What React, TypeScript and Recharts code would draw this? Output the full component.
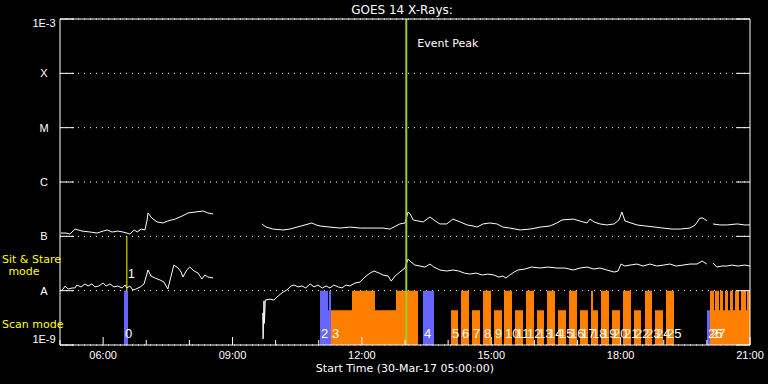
import {
  ComposedChart,
  Line,
  Area,
  Scatter,
  XAxis,
  YAxis,
  CartesianGrid,
  ReferenceLine,
} from "recharts";

const chartTitle = "GOES 14 X-Rays:";
const timeAxisTitle = "Start Time (30-Mar-17 05:00:00)";
const hourTicks = [5, 6, 7, 8, 9, 10, 11, 12, 13, 14, 15, 16, 17, 18, 19, 20, 21];
const fluxTicks = [1e-9, 1e-8, 1e-7, 1e-6, 1e-5, 1e-4, 1e-3];
const fluxLabels = ["1E-9", "A", "B", "C", "M", "X", "1E-3"];
const eventPeakHour = 13.03;
const stareHour = 6.55;

// GOES long channel (1-8 A), [hour, W/m2], null = data gap
const longChannel: [number, number | null][] = [
  [5.02, 1.15e-7], [5.14, 1.15e-7], [5.23, 1.1e-7], [5.35, 1.36e-7], [5.51, 1.25e-7],
  [5.7, 1.2e-7], [5.86, 1.15e-7], [6.0, 1.25e-7], [6.09, 1.31e-7], [6.21, 1.2e-7],
  [6.34, 1.25e-7], [6.46, 1.2e-7], [6.55, 1.15e-7], [6.62, 1.1e-7], [6.72, 1.31e-7],
  [6.79, 1.2e-7], [6.88, 1.36e-7], [6.97, 1.31e-7], [7.02, 2.0e-7], [7.04, 2.69e-7],
  [7.13, 2.17e-7], [7.25, 1.84e-7], [7.39, 1.76e-7], [7.5, 1.92e-7], [7.67, 2.08e-7],
  [7.83, 2.36e-7], [7.97, 2.69e-7], [8.13, 2.8e-7], [8.32, 2.92e-7], [8.43, 2.69e-7],
  [8.55, 2.58e-7], [9.0, null],
  [9.68, 1.69e-7], [9.78, 1.48e-7], [9.94, 1.36e-7], [10.17, 1.31e-7], [10.33, 1.36e-7],
  [10.5, 1.48e-7], [10.68, 1.62e-7], [10.84, 1.76e-7], [10.94, 1.62e-7], [11.03, 1.55e-7],
  [11.26, 1.48e-7], [11.49, 1.42e-7], [11.72, 1.48e-7], [11.96, 1.42e-7], [12.26, 1.42e-7],
  [12.49, 1.42e-7], [12.65, 1.36e-7], [12.79, 1.55e-7], [12.88, 1.69e-7], [13.0, 1.76e-7],
  [13.07, 2.8e-7], [13.12, 2.58e-7], [13.19, 2.0e-7], [13.3, 1.92e-7], [13.42, 1.84e-7],
  [13.58, 2.27e-7], [13.7, 1.92e-7], [13.81, 1.69e-7], [13.97, 1.69e-7], [14.11, 2.08e-7],
  [14.28, 1.84e-7], [14.44, 1.62e-7], [14.58, 1.55e-7], [14.67, 1.48e-7], [14.81, 1.69e-7],
  [14.97, 1.76e-7], [15.13, 1.69e-7], [15.27, 1.48e-7], [15.43, 1.42e-7], [15.67, 1.31e-7],
  [15.9, 1.36e-7], [16.13, 1.48e-7], [16.36, 1.55e-7], [16.52, 1.76e-7], [16.64, 2.0e-7],
  [16.9, 2.08e-7], [17.13, 1.84e-7], [17.22, 1.76e-7], [17.29, 2.08e-7], [17.38, 1.84e-7],
  [17.52, 1.69e-7], [17.68, 1.62e-7], [17.85, 1.69e-7], [17.96, 2.0e-7], [18.03, 2.8e-7],
  [18.1, 1.92e-7], [18.24, 1.76e-7], [18.38, 1.62e-7], [18.57, 1.55e-7], [18.8, 1.48e-7],
  [18.98, 1.42e-7], [19.19, 1.36e-7], [19.38, 1.36e-7], [19.61, 1.42e-7], [19.73, 1.62e-7],
  [19.84, 2.17e-7], [19.91, 2.17e-7], [20.0, 1.92e-7], [20.07, null],
  [20.14, 1.69e-7], [20.3, 1.62e-7], [20.47, 1.62e-7], [20.7, 1.69e-7], [20.88, 1.62e-7],
  [21.0, 1.62e-7],
];

// GOES short channel (0.5-4 A)
const shortChannel: [number, number | null][] = [
  [5.02, 9.8e-9], [5.07, 1.07e-8], [5.12, 1.22e-8], [5.19, 1.07e-8], [5.28, 1.12e-8],
  [5.35, 1.12e-8], [5.39, 1.27e-8], [5.49, 1.17e-8], [5.58, 1.33e-8], [5.65, 1.22e-8],
  [5.74, 1.33e-8], [5.81, 1.17e-8], [5.9, 1.22e-8], [6.0, 1.38e-8], [6.07, 1.22e-8],
  [6.16, 1.33e-8], [6.25, 1.17e-8], [6.34, 1.22e-8], [6.44, 1.12e-8], [6.51, 1.27e-8],
  [6.55, 1.12e-8], [6.62, 1.22e-8], [6.69, 1.03e-8], [6.76, 1.07e-8], [6.86, 1.17e-8],
  [6.95, 1.33e-8], [7.04, 2.4e-8], [7.11, 1.86e-8], [7.2, 1.71e-8], [7.32, 1.57e-8],
  [7.41, 1.44e-8], [7.5, 1.07e-8], [7.57, 1.78e-8], [7.64, 2.96e-8], [7.74, 2.61e-8],
  [7.81, 2.2e-8], [7.85, 1.78e-8], [7.94, 2.4e-8], [8.01, 2.72e-8], [8.11, 2.3e-8],
  [8.2, 2.11e-8], [8.29, 1.64e-8], [8.36, 1.94e-8], [8.43, 1.78e-8], [8.55, 1.71e-8],
  [9.0, null],
  [9.7, 3.9e-9], [9.71, 1.3e-9], [9.73, 6.5e-9], [9.74, 2.5e-9], [9.76, 6.7e-9],
  [9.87, 7.0e-9], [9.96, 6.7e-9], [10.06, 8.0e-9], [10.17, 9.4e-9], [10.26, 1.03e-8],
  [10.36, 1.22e-8], [10.43, 1.27e-8], [10.52, 1.17e-8], [10.61, 1.22e-8], [10.7, 1.12e-8],
  [10.8, 1.33e-8], [10.89, 1.17e-8], [10.98, 1.27e-8], [11.08, 1.12e-8], [11.17, 1.22e-8],
  [11.26, 1.12e-8], [11.35, 1.27e-8], [11.45, 1.17e-8], [11.54, 1.12e-8], [11.63, 1.27e-8],
  [11.72, 1.22e-8], [11.84, 1.38e-8], [11.96, 1.44e-8], [12.07, 1.78e-8], [12.19, 2.11e-8],
  [12.28, 2.3e-8], [12.4, 2.11e-8], [12.49, 1.94e-8], [12.61, 1.86e-8], [12.68, 1.5e-8],
  [12.77, 1.86e-8], [12.88, 2.2e-8], [13.0, 2.61e-8], [13.07, 3.8e-8], [13.14, 3.37e-8],
  [13.23, 2.96e-8], [13.35, 2.84e-8], [13.46, 2.72e-8], [13.58, 3.09e-8], [13.67, 2.72e-8],
  [13.81, 2.4e-8], [13.97, 2.3e-8], [14.11, 2.4e-8], [14.25, 2.3e-8], [14.37, 2.11e-8],
  [14.51, 2.02e-8], [14.65, 2.11e-8], [14.79, 1.94e-8], [14.92, 2.02e-8], [15.06, 1.94e-8],
  [15.18, 1.78e-8], [15.27, 1.86e-8], [15.34, 1.71e-8], [15.43, 1.94e-8], [15.53, 2.2e-8],
  [15.62, 2.4e-8], [15.78, 2.5e-8], [15.94, 2.72e-8], [16.13, 2.61e-8], [16.32, 2.72e-8],
  [16.52, 2.61e-8], [16.71, 2.61e-8], [16.9, 2.4e-8], [17.06, 2.61e-8], [17.22, 2.72e-8],
  [17.38, 2.5e-8], [17.52, 2.61e-8], [17.68, 2.4e-8], [17.85, 2.2e-8], [17.94, 2.3e-8],
  [18.01, 3.09e-8], [18.1, 2.84e-8], [18.22, 2.96e-8], [18.38, 3.09e-8], [18.52, 2.84e-8],
  [18.68, 3.09e-8], [18.84, 2.84e-8], [19.0, 2.96e-8], [19.14, 3.09e-8], [19.29, 2.84e-8],
  [19.45, 2.96e-8], [19.61, 3.09e-8], [19.77, 3.09e-8], [19.89, 3.5e-8], [19.96, 3.23e-8],
  [20.0, 3.09e-8], [20.07, null],
  [20.14, 3.23e-8], [20.23, 2.72e-8], [20.35, 2.84e-8], [20.47, 2.84e-8], [20.58, 2.96e-8],
  [20.72, 2.84e-8], [20.88, 2.96e-8], [21.0, 2.84e-8],
];

// IRIS observing mode blocks: [start hour, F = full raster, S = short, - = none]
const scanBlocks: [number, string][] = [
  [11.284, "S"], [11.771, "F"], [12.304, "S"], [12.791, "F"], [13.301, "-"],
  [14.067, "S"], [14.229, "-"], [14.299, "F"], [14.484, "-"], [14.554, "S"], [14.739, "-"],
  [14.809, "F"], [14.994, "-"], [15.064, "S"], [15.249, "-"], [15.296, "F"], [15.481, "-"],
  [15.551, "S"], [15.736, "-"], [15.806, "F"], [15.991, "-"], [16.061, "S"], [16.223, "-"],
  [16.293, "F"], [16.478, "-"], [16.548, "S"], [16.733, "-"], [16.803, "F"], [16.988, "-"],
  [17.058, "S"], [17.243, "-"], [17.313, "F"], [17.359, "S"], [17.475, "-"], [17.545, "F"],
  [17.73, "-"], [17.8, "S"], [17.986, "-"], [18.055, "F"], [18.241, "-"], [18.31, "S"],
  [18.472, "-"], [18.565, "F"], [18.728, "-"], [18.797, "S"], [18.983, "-"], [19.052, "F"],
  [19.238, "-"],
  [20.072, "F"], [20.165, "S"], [20.188, "F"], [20.281, "S"], [20.304, "F"], [20.374, "S"],
  [20.42, "F"], [20.49, "S"], [20.536, "F"], [20.606, "S"], [20.652, "F"], [20.745, "S"],
  [20.791, "F"], [20.907, "S"], [20.93, "F"], [21.0, "-"],
];

const stareBlocks: [number, string][] = [
  [6.484, "F"], [6.577, "-"],
  [11.029, "F"], [11.214, "S"], [11.238, "F"], [11.284, "-"],
  [13.417, "F"], [13.672, "-"],
  [20.003, "S"], [20.072, "-"],
];

const eventHours = [
  6.484, 6.55, 11.029, 11.284, 13.417, 14.067, 14.299, 14.554, 14.809, 15.064, 15.296,
  15.551, 15.806, 16.061, 16.293, 16.548, 16.803, 17.058, 17.313, 17.545, 17.8, 18.055,
  18.31, 18.565, 18.797, 19.052, 20.003, 20.072,
];
const stareEventIndex = 1;

const blockHeight: Record<string, number> = { F: 1, S: 0.64, "-": 0 };
const ORANGE = "#FF8000";
const BLUE = "#6666FF";
const FONT = "'DejaVu Sans', sans-serif";
const TICK_FONT = "'Liberation Sans', Arial, sans-serif";

const longData = longChannel.map(([t, v]) => ({ t, v }));
const shortData = shortChannel.map(([t, v]) => ({ t, v }));
const orangeData = scanBlocks.map(([t, k]) => ({ t, v: blockHeight[k] }));
const blueData = stareBlocks.map(([t, k]) => ({ t, v: blockHeight[k] }));
const eventData = eventHours.map((t, i) => ({
  t,
  v: i === stareEventIndex ? 1.23 : 0.13,
  n: String(i),
}));

function hourLabel(h: number) {
  return `${String(h).padStart(2, "0")}:00`;
}

function BottomTick({ x, y, payload }: any) {
  const major = payload.value % 3 === 0;
  return (
    <g>
      <line x1={x} x2={x} y1={y} y2={y - (major ? 8 : 5)} stroke="#fff" />
      {major && (
        <text x={x} y={y + 14} textAnchor="middle" fill="#fff" fontSize={11} fontFamily={TICK_FONT}>
          {hourLabel(payload.value)}
        </text>
      )}
    </g>
  );
}

function TopTick({ x, y, payload }: any) {
  const major = payload.value % 3 === 0;
  return <line x1={x} x2={x} y1={y} y2={y + (major ? 7 : 4)} stroke="#fff" />;
}

function LeftTick({ x, y, payload, index }: any) {
  const dy = payload.value >= 1e-3 ? 8 : payload.value <= 1e-9 ? -2 : 4;
  return (
    <g>
      <line x1={x} x2={x + 14} y1={y} y2={y} stroke="#fff" />
      <text x={x - 16} y={y + dy} textAnchor="middle" fill="#fff" fontSize={11} fontFamily={TICK_FONT}>
        {fluxLabels[index]}
      </text>
    </g>
  );
}

function RightTick({ x, y }: any) {
  return <line x1={x - 14} x2={x} y1={y} y2={y} stroke="#fff" />;
}

function EventNumber(props: any) {
  const { cx, cy, payload } = props;
  return (
    <text x={cx + 1} y={cy} fill="#fff" fontSize={13} fontFamily={TICK_FONT}>
      {payload.n}
    </text>
  );
}

export default function App() {
  return (
    <div style={{ position: "absolute", left: 0, top: 0, width: 768, height: 384, background: "#000" }}>
      <ComposedChart width={768} height={384} margin={{ top: 0, right: 0, bottom: 0, left: 0 }}>
        <XAxis
          xAxisId="time"
          dataKey="t"
          type="number"
          domain={[5, 21]}
          allowDataOverflow
          ticks={hourTicks}
          interval={0}
          height={39}
          tickSize={0}
          tickMargin={0}
          tickLine={false}
          axisLine={{ stroke: "#fff" }}
          tick={<BottomTick />}
        />
        <XAxis
          xAxisId="top"
          orientation="top"
          type="number"
          domain={[5, 21]}
          ticks={hourTicks}
          interval={0}
          height={19}
          tickSize={0}
          tickMargin={0}
          tickLine={false}
          axisLine={{ stroke: "#fff" }}
          tick={<TopTick />}
        />
        <YAxis
          yAxisId="flux"
          scale="log"
          type="number"
          domain={[1e-9, 1e-3]}
          allowDataOverflow
          ticks={fluxTicks}
          interval={0}
          width={60}
          tickSize={0}
          tickMargin={0}
          tickLine={false}
          axisLine={{ stroke: "#fff" }}
          tick={<LeftTick />}
        />
        <YAxis
          yAxisId="fluxR"
          orientation="right"
          scale="log"
          type="number"
          domain={[1e-9, 1e-3]}
          allowDataOverflow
          ticks={fluxTicks}
          interval={0}
          width={18}
          tickSize={0}
          tickMargin={0}
          tickLine={false}
          axisLine={{ stroke: "#fff" }}
          tick={<RightTick />}
        />
        <YAxis yAxisId="mode" dataKey="v" type="number" domain={[0, 6]} hide />
        <CartesianGrid
          xAxisId="time"
          yAxisId="flux"
          vertical={false}
          stroke="#fff"
          strokeDasharray="1 5"
        />
        <Area
          xAxisId="time"
          yAxisId="mode"
          data={orangeData}
          dataKey="v"
          type="stepAfter"
          stroke="none"
          fill={ORANGE}
          fillOpacity={1}
          isAnimationActive={false}
        />
        <Area
          xAxisId="time"
          yAxisId="mode"
          data={blueData}
          dataKey="v"
          type="stepAfter"
          stroke="none"
          fill={BLUE}
          fillOpacity={1}
          isAnimationActive={false}
        />
        <Line
          xAxisId="time"
          yAxisId="flux"
          data={longData}
          dataKey="v"
          type="linear"
          stroke="#fff"
          strokeWidth={1}
          dot={false}
          isAnimationActive={false}
        />
        <Line
          xAxisId="time"
          yAxisId="flux"
          data={shortData}
          dataKey="v"
          type="linear"
          stroke="#fff"
          strokeWidth={1}
          dot={false}
          isAnimationActive={false}
        />
        <ReferenceLine
          xAxisId="time"
          yAxisId="flux"
          segment={[
            { x: stareHour, y: 1e-8 },
            { x: stareHour, y: 1e-7 },
          ]}
          stroke="#FFFF00"
          strokeWidth={1}
        />
        <ReferenceLine
          xAxisId="time"
          yAxisId="flux"
          x={eventPeakHour}
          stroke="#9ACD32"
          strokeWidth={2}
          label={(p: any) => (
            <text x={p.viewBox.x + 11} y={p.viewBox.y + 28} fill="#fff" fontSize={11} fontFamily={FONT}>
              Event Peak
            </text>
          )}
        />
        <Scatter
          xAxisId="time"
          yAxisId="mode"
          data={eventData}
          dataKey="v"
          shape={<EventNumber />}
          isAnimationActive={false}
        />
      </ComposedChart>
      <svg
        width={768}
        height={384}
        style={{ position: "absolute", left: 0, top: 0, pointerEvents: "none" }}
      >
        <text x={402} y={14} textAnchor="middle" fill="#fff" fontSize={12} fontFamily={FONT}>
          {chartTitle}
        </text>
        <text x={405} y={372} textAnchor="middle" fill="#fff" fontSize={11} fontFamily={FONT}>
          {timeAxisTitle}
        </text>
        <text x={2} y={263} fill="#FFFF00" fontSize={11} fontFamily={FONT}>
          Sit &amp; Stare
        </text>
        <text x={24} y={275} textAnchor="middle" fill="#FFFF00" fontSize={11} fontFamily={FONT}>
          mode
        </text>
        <text x={2} y={328} fill="#FFFF00" fontSize={11} fontFamily={FONT}>
          Scan mode
        </text>
      </svg>
    </div>
  );
}
